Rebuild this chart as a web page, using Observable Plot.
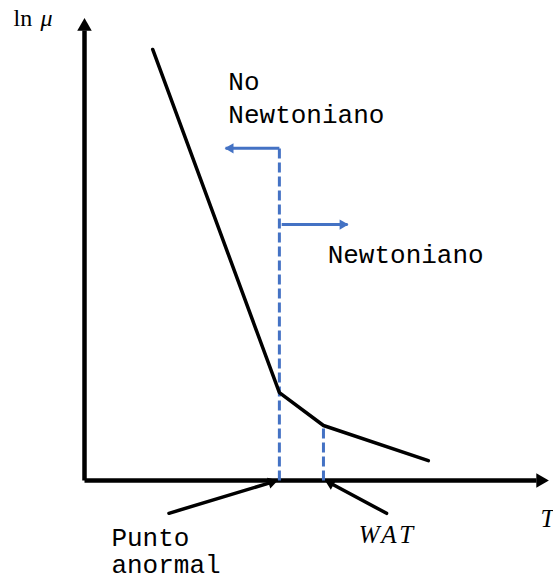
<!DOCTYPE html>
<html><head><meta charset="utf-8">
<script src="https://cdn.jsdelivr.net/npm/d3@7"></script>
<script src="https://cdn.jsdelivr.net/npm/@observablehq/plot@0.6"></script>
<style>
html,body{margin:0;padding:0;background:#fff;}
svg{overflow:visible;}
</style>
</head><body>
<div id="chart"></div>
<script>
// Curve: temperature T vs ln(mu) (schematic units)
const T = [1.47, 4.20, 5.15, 7.41];
const lnMu = [9.33, 1.90, 1.19, 0.43];
// Key temperatures
const anomalousT = T[1];
const watT = T[2];
const watLnMu = lnMu[2];
// Region indicator arrows
const regionTop = 7.19;
const leftArrowEnd = 3.04;
const rightArrowY = 5.54;
const rightArrowStart = 4.25;
const rightArrowEnd = 5.67;
// Labels
const monoLabels = ["No", "Newtoniano", "Newtoniano", "Punto", "anormal"];
const monoX = [3.10, 3.10, 5.24, 0.58, 0.58];
const monoY = [8.46, 7.73, 4.70, -1.41, -2.00];
// Annotation arrows (pointer tails and tips)
const pointerFromX = [1.82, 6.51];
const pointerFromY = [-0.71, -0.71];
const pointerToX = [4.16, 5.19];
const pointerToY = [0, 0];
const axisMax = 10;

const W = 553, H = 581, ML = 84, MR = 5, MT = 18, MB = 101;
const kx = (W - ML - MR) / axisMax, ky = (H - MT - MB) / axisMax;

const curve = T.map((t, i) => ({t, v: lnMu[i]}));
const mono = monoLabels.map((s, i) => ({s, x: monoX[i], y: monoY[i]}));
const pointers = pointerFromX.map((x, i) => {
  const dxp = (pointerToX[i] - x) * kx, dyp = -(pointerToY[i] - pointerFromY[i]) * ky;
  const len = Math.hypot(dxp, dyp);
  const ang = Math.atan2(dxp, -dyp) * 180 / Math.PI;
  return {x1: x, y1: pointerFromY[i], x2: pointerToX[i], y2: pointerToY[i], rot: ang,
          ox: -dxp / len * 6, oy: -dyp / len * 6};
});
const blue = "#4472C4";

const chart = Plot.plot({
  width: W, height: H,
  marginLeft: ML, marginRight: MR, marginTop: MT, marginBottom: MB,
  x: {domain: [0, axisMax], axis: null},
  y: {domain: [0, axisMax], axis: null},
  marks: [
    // axes
    Plot.arrow([{x1: 0, y1: 0, x2: 0, y2: axisMax}], {x1: "x1", y1: "y1", x2: "x2", y2: "y2", stroke: "black", strokeWidth: 4.5, headLength: 0, insetEnd: 12, strokeLinecap: "butt"}),
    Plot.arrow([{x1: 0, y1: 0, x2: axisMax, y2: 0}], {x1: "x1", y1: "y1", x2: "x2", y2: "y2", stroke: "black", strokeWidth: 4.5, headLength: 0, insetEnd: 12, strokeLinecap: "butt"}),
    Plot.dot([{x: 0, y: axisMax}], {x: "x", y: "y", symbol: "triangle", r: 5.4, fill: "black", stroke: null, dy: 8}),
    Plot.dot([{x: axisMax, y: 0}], {x: "x", y: "y", symbol: "triangle", r: 5.4, fill: "black", stroke: null, rotate: 90, dx: -8}),
    // blue dashed verticals
    Plot.link([{x: anomalousT, y1: 0, y2: regionTop}, {x: watT, y1: 0, y2: watLnMu}], {x1: "x", x2: "x", y1: "y1", y2: "y2", stroke: blue, strokeWidth: 3, strokeDasharray: "10,4"}),
    // blue region arrows
    Plot.link([{x1: anomalousT, x2: leftArrowEnd, y: regionTop}], {x1: "x1", x2: "x2", y1: "y", y2: "y", stroke: blue, strokeWidth: 3}),
    Plot.link([{x1: rightArrowStart, x2: rightArrowEnd, y: rightArrowY}], {x1: "x1", x2: "x2", y1: "y", y2: "y", stroke: blue, strokeWidth: 3}),
    Plot.dot([{x: leftArrowEnd, y: regionTop}], {x: "x", y: "y", symbol: "triangle", r: 3.8, fill: blue, stroke: null, rotate: -90, dx: 5}),
    Plot.dot([{x: rightArrowEnd, y: rightArrowY}], {x: "x", y: "y", symbol: "triangle", r: 3.8, fill: blue, stroke: null, rotate: 90, dx: -5}),
    // curve
    Plot.line(curve, {x: "t", y: "v", stroke: "black", strokeWidth: 3.5, strokeLinejoin: "miter"}),
    // pointer arrows
    Plot.arrow(pointers, {x1: "x1", y1: "y1", x2: "x2", y2: "y2", stroke: "black", strokeWidth: 3.5, headLength: 0, insetEnd: 8}),
    ...pointers.map(p => Plot.dot([p], {x: "x2", y: "y2", symbol: "triangle", r: 4.2, fill: "black", stroke: null, rotate: p.rot, dx: p.ox, dy: p.oy})),
    // labels
    Plot.text(mono, {x: "x", y: "y", text: "s", textAnchor: "start", lineAnchor: "bottom", fontFamily: "Liberation Mono", fontSize: 26, fill: "black"}),
    Plot.text([{x: 5.91, y: -1.36}], {x: "x", y: "y", text: () => "WAT", textAnchor: "start", lineAnchor: "bottom", fontFamily: "Liberation Serif", fontStyle: "italic", fontSize: 25, fill: "black"}),
    Plot.text([{x: 9.83, y: -1.0}], {x: "x", y: "y", text: () => "T", textAnchor: "start", lineAnchor: "bottom", fontFamily: "Liberation Serif", fontStyle: "italic", fontSize: 25, fill: "black"}),
    Plot.text([{x: -1.53, y: 9.83}], {x: "x", y: "y", text: () => "ln", textAnchor: "start", lineAnchor: "bottom", fontFamily: "Liberation Serif", fontSize: 24, fill: "black"}),
    Plot.text([{x: -0.95, y: 9.83}], {x: "x", y: "y", text: () => "μ", textAnchor: "start", lineAnchor: "bottom", fontFamily: "Liberation Serif", fontStyle: "italic", fontSize: 24, fill: "black"})
  ]
});
d3.select(chart).selectAll("text").filter(function() { return this.textContent === "WAT"; }).attr("letter-spacing", "3.5px");
document.getElementById("chart").appendChild(chart);
</script>
</body></html>
